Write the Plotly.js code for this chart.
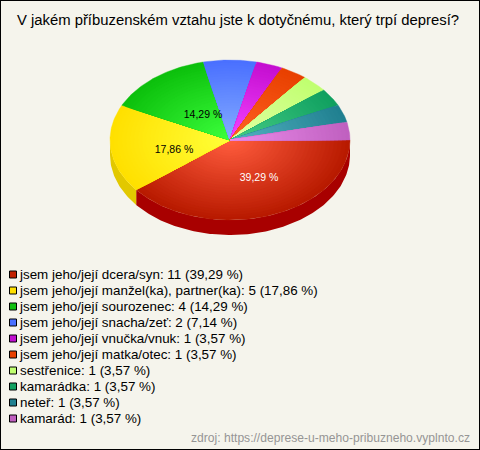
<!DOCTYPE html>
<html><head><meta charset="utf-8">
<script src="https://cdn.plot.ly/plotly-3.0.1.min.js"></script>
<style>html,body{margin:0;padding:0;background:#f5f4ec}#c{width:480px;height:450px}</style>
</head><body><div id="c"></div>
<script>
const categories = ["jsem jeho/její dcera/syn","jsem jeho/její manžel(ka), partner(ka)","jsem jeho/její sourozenec","jsem jeho/její snacha/zeť","jsem jeho/její vnučka/vnuk","jsem jeho/její matka/otec","sestřenice","kamarádka","neteř","kamarád"];
const counts = [11,5,4,2,1,1,1,1,1,1];
const percentLabels = ["39,29 %","17,86 %","14,29 %","7,14 %","3,57 %","3,57 %","3,57 %","3,57 %","3,57 %","3,57 %"];
const innerColors = ["#ff5c3e","#ffff38","#3cff3c","#84acff","#f444ff","#ff6224","#e2ffa4","#46cc86","#54b2c2","#ea8cea"];
const outerColors = ["#b81a00","#ffe000","#0cc00c","#4a70ff","#c40ed0","#e84000","#c0ff70","#10a060","#208090","#c060c0"];
const wallColors = ["#a80000","#e2c800"];
const legendColors = ["#c02000","#ffe000","#10c010","#4a70ff","#c010d0","#e84000","#c0ff70","#10a060","#208090","#c060c0"];
const sliceLabelX = [259,174,203];
const sliceLabelY = [178,150,115];
const sliceLabelColor = ["#ffffff","#000000","#000000"];
const titleText = "V jakém příbuzenském vztahu jste k dotyčnému, který trpí depresí?";
const sourceText = "zdroj: https://deprese-u-meho-pribuzneho.vyplnto.cz";

const cx=230, cy=140, rx=120, ry=80, depth=15, levels=30;
const total = counts.reduce((a,b)=>a+b,0);
const hex=c=>[1,3,5].map(i=>parseInt(c.substr(i,2),16));
const mix=(a,b,t)=>{const A=hex(a),B=hex(b);return "rgb("+A.map((v,i)=>Math.round(v+(B[i]-v)*t)).join(",")+")";};
const traces=[];
let start=0; const spans=counts.map(v=>{const s=[start,start+v/total*360];start=s[1];return s;});

// side wall
spans.forEach((s,i)=>{
  const a0=s[0], a1=Math.min(s[1],180);
  if(a0>=180) return;
  const xs=[],ys=[];
  for(let a=a0;a<=a1+1e-6;a+=(a1-a0)/Math.ceil(a1-a0)){const t=a*Math.PI/180;xs.push(cx+rx*Math.cos(t));ys.push(cy+ry*Math.sin(t));}
  for(let k=xs.length-1;k>=0;k--){xs.push(xs[k]);ys.push(ys[k]+depth);}
  traces.push({x:xs,y:ys,mode:"lines",fill:"toself",fillcolor:wallColors[i],line:{width:0},hoverinfo:"skip",showlegend:false});
});
// top face: nested wedges, outermost first, to build the radial shading
spans.forEach((s,i)=>{
  for(let l=levels;l>=1;l--){
    const f=l/levels, n=Math.max(2,Math.ceil(s[1]-s[0]));
    const xs=[cx],ys=[cy];
    for(let k=0;k<=n;k++){const t=(s[0]+(s[1]-s[0])*k/n)*Math.PI/180;xs.push(cx+rx*f*Math.cos(t));ys.push(cy+ry*f*Math.sin(t));}
    xs.push(cx);ys.push(cy);
    const col=mix(innerColors[i],outerColors[i],(l-1)/(levels-1));
    traces.push({x:xs,y:ys,mode:"lines",fill:"toself",fillcolor:col,line:{width:0.4,color:col},hoverinfo:l===levels?"text":"skip",text:categories[i],showlegend:false});
  }
});
// slice labels
traces.push({x:sliceLabelX,y:sliceLabelY,mode:"text",text:percentLabels.slice(0,3),textposition:"middle center",
  textfont:{family:"Liberation Sans",size:10.5,color:sliceLabelColor},hoverinfo:"skip",showlegend:false});
// legend
const swatchY=categories.map((_,i)=>274.5+i*16);
const legendY=categories.map((_,i)=>275.5+i*16);
traces.push({x:categories.map(()=>13),y:swatchY,mode:"markers",marker:{symbol:"square",size:7,color:legendColors,line:{color:"#000",width:1}},hoverinfo:"skip",showlegend:false});
traces.push({x:categories.map(()=>20),y:legendY,mode:"text",textposition:"middle right",
  text:categories.map((c,i)=>c+": "+counts[i]+" ("+percentLabels[i]+")"),
  textfont:{family:"Liberation Sans",size:13.4,color:"#000"},hoverinfo:"skip",showlegend:false});

const layout={width:480,height:450,margin:{l:0,r:0,t:0,b:0},paper_bgcolor:"#f5f4ec",plot_bgcolor:"#f5f4ec",showlegend:false,
  xaxis:{range:[0,480],visible:false,fixedrange:true},
  yaxis:{range:[450,0],visible:false,fixedrange:true},
  title:{text:titleText,font:{family:"Liberation Sans",size:14.85,color:"#000"},x:238/480,xanchor:"center",y:1-19.5/450,yanchor:"middle"},
  annotations:[{xref:"paper",yref:"paper",x:472/480,y:1-438/450,xanchor:"right",yanchor:"middle",showarrow:false,text:sourceText,
    font:{family:"Liberation Sans",size:12.1,color:"#959595"}}],
  shapes:[{type:"rect",xref:"paper",yref:"paper",x0:0,x1:1,y0:0,y1:1,line:{color:"#000",width:2},fillcolor:"rgba(0,0,0,0)"}]
};
Plotly.newPlot("c",traces,layout,{displayModeBar:false,staticPlot:true});
</script></body></html>
